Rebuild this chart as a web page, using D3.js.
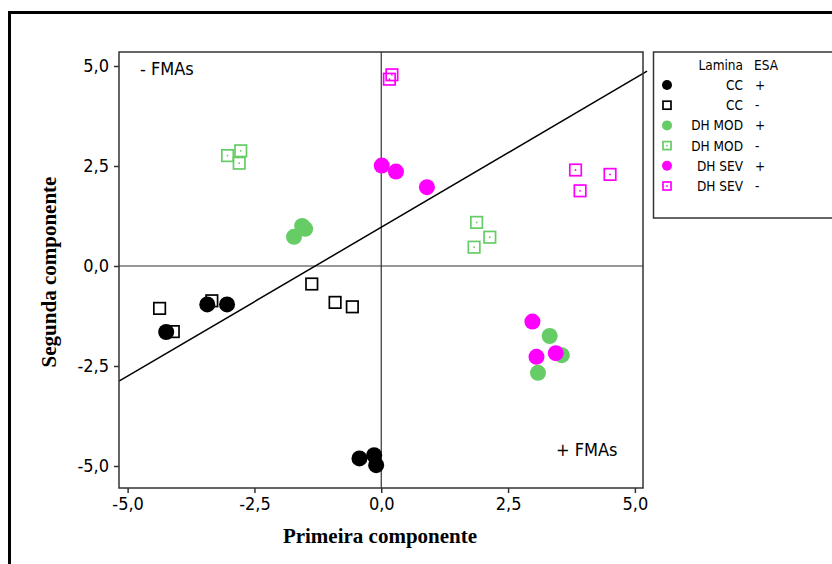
<!DOCTYPE html>
<html>
<head>
<meta charset="utf-8">
<script src="https://cdn.jsdelivr.net/npm/d3@7"></script>
<style>
  body { margin: 0; background: #fff; }
  svg { display: block; }
  .tick text { font-family: "DejaVu Sans Condensed", "DejaVu Sans", sans-serif; font-size: 18px; fill: #000; }
</style>
</head>
<body>
<svg id="chart"></svg>
<script>
const width = 832,
  height = 564;

// scores on the first two components, one array per group
const ccPos = [[-4.24, -1.65], [-3.43, -0.96], [-3.04, -0.96], [-0.43, -4.81], [-0.14, -4.73], [-0.10, -4.98]];
const ccNeg = [[-4.37, -1.06], [-3.34, -0.87], [-4.10, -1.64], [-1.37, -0.45], [-0.91, -0.91], [-0.57, -1.02]];
const modPos = [[-1.72, 0.73], [-1.56, 1.0], [-1.50, 0.93], [3.32, -1.75], [3.56, -2.23], [3.09, -2.67]];
const modNeg = [[-3.03, 2.76], [-2.77, 2.88], [-2.80, 2.57], [1.88, 1.09], [2.14, 0.72], [1.83, 0.47]];
const sevPos = [[2.98, -1.39], [3.06, -2.27], [3.44, -2.18], [0.01, 2.51], [0.29, 2.36], [0.90, 1.97]];
const sevNeg = [[3.83, 2.40], [4.51, 2.29], [3.92, 1.88], [0.21, 4.78], [0.16, 4.67]];

const ticks = [-5, -2.5, 0, 2.5, 5];
const tickFmt = d => d3.format(".1f")(d).replace(".", ",").replace("\u2212", "-");

// separating line, two end points in data units
const divider = [[-5.17, -2.88], [5.24, 4.87]];

const groups = [
  { lamina: "CC", esa: "+", data: ccPos, color: "#000000", shape: "circle" },
  { lamina: "CC", esa: "-", data: ccNeg, color: "#000000", shape: "square" },
  { lamina: "DH MOD", esa: "+", data: modPos, color: "#66cc66", shape: "circle" },
  { lamina: "DH MOD", esa: "-", data: modNeg, color: "#66cc66", shape: "square" },
  { lamina: "DH SEV", esa: "+", data: sevPos, color: "#ff00ff", shape: "circle" },
  { lamina: "DH SEV", esa: "-", data: sevNeg, color: "#ff00ff", shape: "square" }
];

const svg = d3.select("#chart").attr("width", width).attr("height", height);

// outer thick frame
svg.append("path")
  .attr("d", "M9.5," + height + " V12.5 H" + width)
  .attr("fill", "none")
  .attr("stroke", "#000")
  .attr("stroke-width", 3);

const plot = { left: 119, top: 52, right: 643, bottom: 488 };

const x = d3.scaleLinear().domain([-5.17, 5.16]).range([plot.left, plot.right]);
const y = d3.scaleLinear().domain([-5.55, 5.35]).range([plot.bottom, plot.top]);

// reference lines through zero
svg.append("line")
  .attr("x1", x(0)).attr("x2", x(0))
  .attr("y1", plot.top).attr("y2", plot.bottom)
  .attr("stroke", "#333").attr("stroke-width", 1.2);
svg.append("line")
  .attr("x1", plot.left).attr("x2", plot.right)
  .attr("y1", y(0)).attr("y2", y(0))
  .attr("stroke", "#333").attr("stroke-width", 1.2);

// diagonal
svg.append("line")
  .attr("x1", x(divider[0][0])).attr("y1", y(divider[0][1]))
  .attr("x2", x(divider[1][0])).attr("y2", y(divider[1][1]))
  .attr("stroke", "#000").attr("stroke-width", 1.5);

// frame of the plot area
svg.append("rect")
  .attr("x", plot.left).attr("y", plot.top)
  .attr("width", plot.right - plot.left).attr("height", plot.bottom - plot.top)
  .attr("fill", "none").attr("stroke", "#333").attr("stroke-width", 1.5);

const xAxis = svg.append("g")
  .attr("transform", `translate(0,${plot.bottom})`)
  .call(d3.axisBottom(x).tickValues(ticks).tickFormat(tickFmt).tickSize(5).tickPadding(4));
const yAxis = svg.append("g")
  .attr("transform", `translate(${plot.left},0)`)
  .call(d3.axisLeft(y).tickValues(ticks).tickFormat(tickFmt).tickSize(5).tickPadding(5));
[xAxis, yAxis].forEach(a => {
  a.select(".domain").remove();
  a.selectAll(".tick line").attr("stroke", "#333").attr("stroke-width", 1.5);
});

// points: squares first, circles on top
const drawSquare = (sel, color, s, dot) => {
  sel.append("rect")
    .attr("x", -s / 2).attr("y", -s / 2)
    .attr("width", s).attr("height", s)
    .attr("fill", "#fff").attr("fill-opacity", 0)
    .attr("stroke", color).attr("stroke-width", 1.7);
  if (dot) {
    sel.append("circle").attr("r", 0.9).attr("fill", color);
  }
};

groups.filter(g => g.shape === "square").forEach(g => {
  const pts = svg.append("g").selectAll("g")
    .data(g.data)
    .enter()
    .append("g")
    .attr("transform", d => `translate(${x(d[0])},${y(d[1])})`);
  drawSquare(pts, g.color, 11.5, g.lamina !== "CC");
});

groups.filter(g => g.shape === "circle").forEach(g => {
  svg.append("g").selectAll("circle")
    .data(g.data)
    .enter()
    .append("circle")
    .attr("cx", d => x(d[0]))
    .attr("cy", d => y(d[1]))
    .attr("r", 8)
    .attr("fill", g.color);
});

// annotations
const sans = "'DejaVu Sans Condensed', 'DejaVu Sans', sans-serif";
svg.append("text").attr("x", 140).attr("y", 75)
  .style("font-family", sans).style("font-size", "18px").text("- FMAs");
svg.append("text").attr("x", 556).attr("y", 456)
  .style("font-family", sans).style("font-size", "18px").text("+ FMAs");

// axis titles
const serif = "'Liberation Serif', 'Times New Roman', serif";
svg.append("text")
  .attr("x", 380).attr("y", 543)
  .attr("text-anchor", "middle")
  .style("font-family", serif).style("font-weight", "bold").style("font-size", "21px")
  .text("Primeira componente");
svg.append("text")
  .attr("transform", "translate(56,272) rotate(-90)")
  .attr("text-anchor", "middle")
  .style("font-family", serif).style("font-weight", "bold").style("font-size", "21px")
  .text("Segunda componente");

// legend
const legend = svg.append("g");
legend.append("rect")
  .attr("x", 653.5).attr("y", 52)
  .attr("width", 200).attr("height", 166)
  .attr("fill", "none").attr("stroke", "#333").attr("stroke-width", 1.5);
legend.append("text").attr("x", 743).attr("y", 70).attr("text-anchor", "end")
  .style("font-family", sans).style("font-size", "13.5px").text("Lamina");
legend.append("text").attr("x", 754).attr("y", 70)
  .style("font-family", sans).style("font-size", "13.5px").text("ESA");

const rows = legend.selectAll("g.row")
  .data(groups)
  .enter()
  .append("g")
  .attr("class", "row")
  .attr("transform", (d, i) => `translate(0,${85 + i * 20.2})`);

rows.each(function(d) {
  const r = d3.select(this);
  const sym = r.append("g").attr("transform", "translate(667,0)");
  if (d.shape === "circle") {
    sym.append("circle").attr("r", 5).attr("fill", d.color);
  } else {
    drawSquare(sym, d.color, 8, d.lamina !== "CC");
  }
  r.append("text").attr("x", 743).attr("y", 5).attr("text-anchor", "end")
    .style("font-family", sans).style("font-size", "13.5px").text(d.lamina);
  r.append("text").attr("x", 755).attr("y", 5)
    .style("font-family", sans).style("font-size", "13.5px").text(d.esa);
});
</script>
</body>
</html>
